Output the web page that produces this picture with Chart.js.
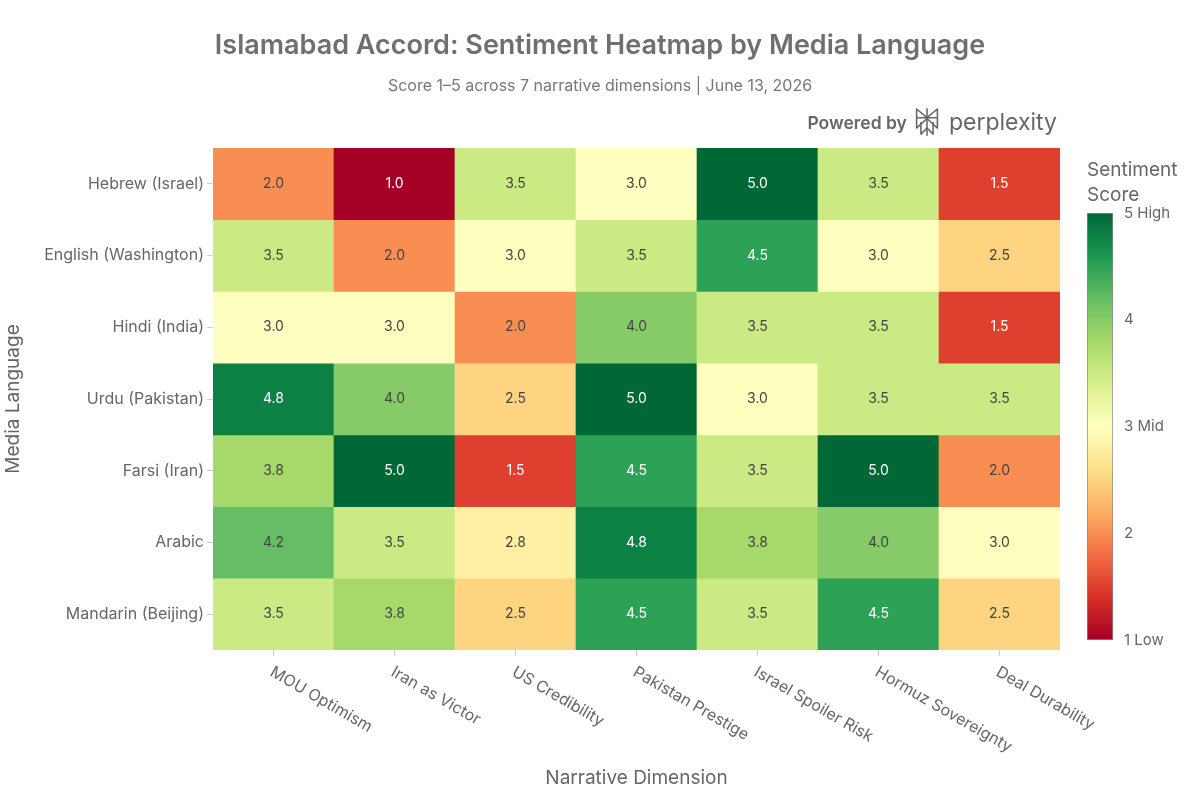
<!DOCTYPE html>
<html>
<head>
<meta charset="utf-8">
<script src="https://cdn.jsdelivr.net/npm/chart.js@4/dist/chart.umd.min.js"></script>
<style>
  html, body { margin: 0; padding: 0; background: #fff; }
  #wrap { position: relative; width: 1200px; height: 800px; font-family: Inter, 'Open Sans', sans-serif; }
  #main { position: absolute; left: 0; top: 0; }
  #bar { position: absolute; left: 1080px; top: 150px; }
  .head { position: absolute; left: 0; width: 1200px; text-align: center; white-space: nowrap; }
  #title { top: 28px; font-size: 27px; font-weight: 600; color: #6f6f6f; }
  #subtitle { top: 75px; font-size: 16px; color: #777; }
  #powered { position: absolute; right: 143px; top: 106px; display: flex; align-items: center; color: #666; }
  #powered .by { font-size: 17.5px; font-weight: 600; margin-right: 7px; }
  #powered .px { font-size: 23px; font-weight: 400; margin-left: 9px; }
</style>
</head>
<body>
<div id="wrap">
  <canvas id="main" width="1200" height="800"></canvas>
  <canvas id="bar" width="120" height="510"></canvas>
  <div class="head" id="title">Islamabad Accord: Sentiment Heatmap by Media Language</div>
  <div class="head" id="subtitle">Score 1–5 across 7 narrative dimensions | June 13, 2026</div>
  <div id="powered">
    <span class="by">Powered by</span>
    <svg width="26" height="32" viewBox="0 0 30 34" fill="none" stroke="#666" stroke-width="1.8" stroke-linejoin="round">
      <path d="M15 1 V33"/>
      <path d="M3 2 L15 12 L27 2 V12 H3 Z"/>
      <path d="M3 12 V24 L15 13"/>
      <path d="M27 12 V24 L15 13"/>
      <path d="M8 17 V31 L15 24 L22 31 V17"/>
    </svg>
    <span class="px">perplexity</span>
  </div>
</div>
<script>
// categories
const dimensions = ['MOU Optimism', 'Iran as Victor', 'US Credibility', 'Pakistan Prestige',
  'Israel Spoiler Risk', 'Hormuz Sovereignty', 'Deal Durability'];
const languages = ['Hebrew (Israel)', 'English (Washington)', 'Hindi (India)', 'Urdu (Pakistan)',
  'Farsi (Iran)', 'Arabic', 'Mandarin (Beijing)'];

// scores per language, in dimension order
const hebrew   = [2.0, 1.0, 3.5, 3.0, 5.0, 3.5, 1.5];
const english  = [3.5, 2.0, 3.0, 3.5, 4.5, 3.0, 2.5];
const hindi    = [3.0, 3.0, 2.0, 4.0, 3.5, 3.5, 1.5];
const urdu     = [4.8, 4.0, 2.5, 5.0, 3.0, 3.5, 3.5];
const farsi    = [3.8, 5.0, 1.5, 4.5, 3.5, 5.0, 2.0];
const arabic   = [4.2, 3.5, 2.8, 4.8, 3.8, 4.0, 3.0];
const mandarin = [3.5, 3.8, 2.5, 4.5, 3.5, 4.5, 2.5];
const rows = [hebrew, english, hindi, urdu, farsi, arabic, mandarin];

// colour bar
const scoreTicks = [1, 2, 3, 4, 5];
const scoreTickLabels = ['1 Low', '2', '3 Mid', '4', '5 High'];
const scoreMin = 1, scoreMax = 5;

// RdYlGn
const stops = [[165,0,38],[215,48,39],[244,109,67],[253,174,97],[254,224,139],[255,255,191],
  [217,239,139],[166,217,106],[102,189,99],[26,152,80],[0,104,55]];

function colorFor(v) {
  const t = Math.min(1, Math.max(0, (v - scoreMin) / (scoreMax - scoreMin))) * (stops.length - 1);
  const i = Math.min(stops.length - 2, Math.floor(t));
  const f = t - i;
  const c = stops[i].map((a, k) => Math.round(a + (stops[i + 1][k] - a) * f));
  return `rgb(${c[0]},${c[1]},${c[2]})`;
}

const FONT = "Inter, 'Open Sans', sans-serif";
const GREY = '#666';

// ── Cell value labels ─────────────────────────────────────────
const cellLabels = {
  id: 'cellLabels',
  afterDatasetsDraw(chart) {
    const ctx = chart.ctx;
    ctx.save();
    ctx.font = `14px ${FONT}`;
    ctx.textAlign = 'center';
    ctx.textBaseline = 'middle';
    chart.data.datasets.forEach((ds, r) => {
      chart.getDatasetMeta(r).data.forEach((el, c) => {
        const v = rows[r][c];
        ctx.fillStyle = (v >= 4.5 || v <= 1.5) ? '#fff' : '#444';
        ctx.fillText(v.toFixed(1), el.x, (el.y + el.base) / 2);
      });
    });
    ctx.restore();
  }
};

// ── Rotated x labels (start at tick, slant down-right) ────────
const slantLabels = {
  id: 'slantLabels',
  afterDraw(chart) {
    const ctx = chart.ctx, xs = chart.scales.x;
    ctx.save();
    ctx.font = `16px ${FONT}`;
    ctx.fillStyle = GREY;
    ctx.textAlign = 'left';
    ctx.textBaseline = 'top';
    dimensions.forEach((d, i) => {
      ctx.save();
      ctx.translate(xs.getPixelForValue(i) + 2, chart.chartArea.bottom + 14);
      ctx.rotate(Math.PI / 6);
      ctx.fillText(d, 0, 0);
      ctx.restore();
    });
    ctx.restore();
  }
};

new Chart(document.getElementById('main'), {
  type: 'bar',
  data: {
    labels: dimensions,
    datasets: languages.map((lang, r) => ({
      label: lang,
      data: dimensions.map(() => [r, r + 1]),
      backgroundColor: rows[r].map(colorFor),
      borderWidth: 0,
      barPercentage: 1,
      categoryPercentage: 1,
      grouped: false,
    })),
  },
  options: {
    responsive: false,
    animation: false,
    layout: { padding: { top: 148, right: 140, left: 0, bottom: 0 } },
    plugins: {
      legend: { display: false },
      tooltip: { enabled: false },
    },
    scales: {
      x: {
        type: 'category',
        offset: true,
        ticks: { display: false },
        grid: { offset: false, drawOnChartArea: false, tickLength: 6, color: '#ccc' },
        border: { display: false },
        title: {
          display: true, text: 'Narrative Dimension', color: GREY,
          font: { family: FONT, size: 19 }, padding: { top: 0, bottom: 10 },
        },
        afterFit(scale) { scale.height = 150; },
      },
      y: {
        type: 'linear',
        min: 0,
        max: languages.length,
        reverse: true,
        afterBuildTicks(scale) { scale.ticks = languages.map((_, i) => ({ value: i + 0.5 })); },
        ticks: {
          color: GREY,
          font: { family: FONT, size: 16 },
          padding: 3,
          callback: (v, i) => languages[i],
        },
        grid: { drawOnChartArea: false, tickLength: 6, color: '#ccc' },
        border: { display: false },
        title: {
          display: true, text: 'Media Language', color: GREY,
          font: { family: FONT, size: 19 }, padding: { top: 2, bottom: 0 },
        },
        afterFit(scale) { scale.width = 213; },
      },
    },
  },
  plugins: [cellLabels, slantLabels],
});

// ── Colour bar ────────────────────────────────────────────────
const barTitle = {
  id: 'barTitle',
  afterDraw(chart) {
    const ctx = chart.ctx;
    ctx.save();
    ctx.font = `19px ${FONT}`;
    ctx.fillStyle = GREY;
    ctx.textBaseline = 'middle';
    ctx.fillText('Sentiment', 7, 20);
    ctx.fillText('Score', 7, 45);
    ctx.restore();
  }
};

new Chart(document.getElementById('bar'), {
  type: 'bar',
  data: {
    labels: ['score'],
    datasets: [{
      data: [[scoreMin, scoreMax]],
      backgroundColor(c) {
        const a = c.chart.chartArea;
        if (!a) return null;
        const g = c.chart.ctx.createLinearGradient(0, a.bottom, 0, a.top);
        stops.forEach((s, i) => g.addColorStop(i / (stops.length - 1), `rgb(${s[0]},${s[1]},${s[2]})`));
        return g;
      },
      borderColor: '#888',
      borderWidth: 1,
      borderSkipped: false,
      barPercentage: 1,
      categoryPercentage: 1,
    }],
  },
  options: {
    responsive: false,
    animation: false,
    layout: { padding: { left: 7, top: 63, bottom: 20, right: 0 } },
    plugins: { legend: { display: false }, tooltip: { enabled: false } },
    scales: {
      x: { display: false },
      y: {
        position: 'right',
        min: scoreMin,
        max: scoreMax,
        afterBuildTicks(scale) { scale.ticks = scoreTicks.map(v => ({ value: v })); },
        ticks: {
          color: GREY,
          font: { family: FONT, size: 15 },
          padding: 3,
          callback: (v, i) => scoreTickLabels[i],
        },
        grid: { display: false },
        border: { display: false },
        afterFit(scale) { scale.width = 87; },
      },
    },
  },
  plugins: [barTitle],
});
</script>
</body>
</html>
